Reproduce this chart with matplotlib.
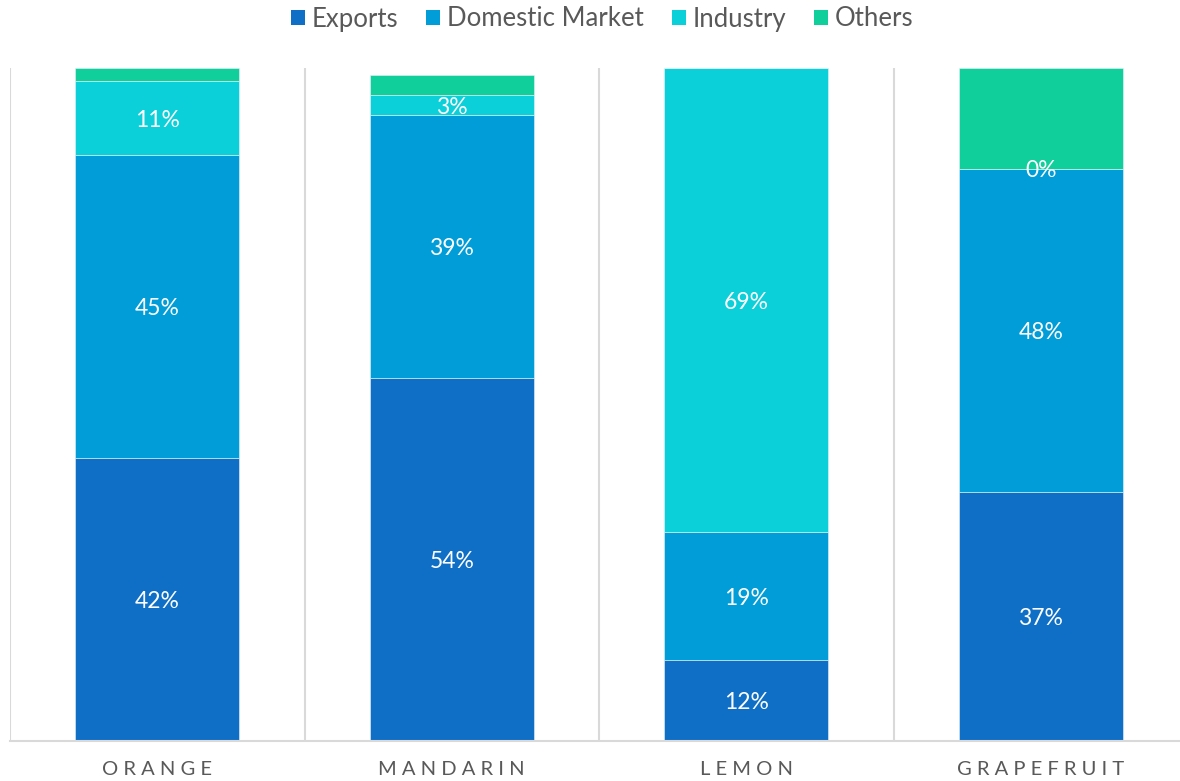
import matplotlib
matplotlib.use("Agg")
import matplotlib.pyplot as plt
from matplotlib.patches import Patch
import numpy as np

categories = ["ORANGE", "MANDARIN", "LEMON", "GRAPEFRUIT"]
series_names = ["Exports", "Domestic Market", "Industry", "Others"]
exports = [42, 54, 12, 37]
domestic = [45, 39, 19, 48]
industry = [11, 3, 69, 0]
others = [2, 3, 0, 15]
colors = ["#0F6FC6", "#009DD9", "#0BD0D9", "#10CF9B"]

plt.rcParams["font.family"] = ["Lato", "DejaVu Sans"]

W, H = 1180, 781
fig = plt.figure(figsize=(W / 100, H / 100), dpi=100)
ax_left, ax_right = 10, 1188
ax_bottom, ax_top = 741, 68
ax = fig.add_axes([ax_left / W, (H - ax_bottom) / H,
                   (ax_right - ax_left) / W, (ax_bottom - ax_top) / H])

x = np.arange(len(categories))
bar_w = 0.557
series = [exports, domestic, industry, others]
bottom = np.zeros(len(categories))
for name, vals, col in zip(series_names, series, colors):
    vals = np.array(vals, dtype=float)
    ax.bar(x, vals, bar_w, bottom=bottom, color=col, label=name,
           edgecolor="#E6F4FB", linewidth=0.4, zorder=2)
    if name != "Others":
        for xi, b, v in zip(x, bottom, vals):
            if v > 0 or name == "Industry":
                ax.text(xi, b + v / 2, f"{int(v)}%", ha="center",
                        va="center_baseline", color="white", fontsize=16.5,
                        zorder=3)
    bottom += vals

ax.set_xlim(-0.5, len(categories) - 0.5)
ax.set_ylim(0, 100)
ax.set_yticks([])
ax.set_xticks([])
for s in ["top", "right", "left"]:
    ax.spines[s].set_visible(False)
ax.spines["bottom"].set_color("#D9D9D9")
ax.spines["bottom"].set_linewidth(1.5)

# category separators
for b in np.arange(-0.5, len(categories), 1.0):
    ax.axvline(b, color="#D9D9D9", linewidth=1.5, zorder=1)

# letter-spaced category names
for xi, cat in zip(x, categories):
    ax.text(xi, -2.9, " ".join(cat), ha="center", va="top",
            color="#595959", fontsize=14.5)

handles = [Patch(facecolor=c, edgecolor="none") for c in colors]
fig.legend(handles, series_names, loc="center", bbox_to_anchor=(602 / W, 1 - 19 / H),
           ncol=4, frameon=False, fontsize=18.5, labelcolor="#595959",
           handlelength=0.55, handleheight=0.55, handletextpad=0.25,
           columnspacing=1.1)

fig.savefig("out.png", dpi=100)
